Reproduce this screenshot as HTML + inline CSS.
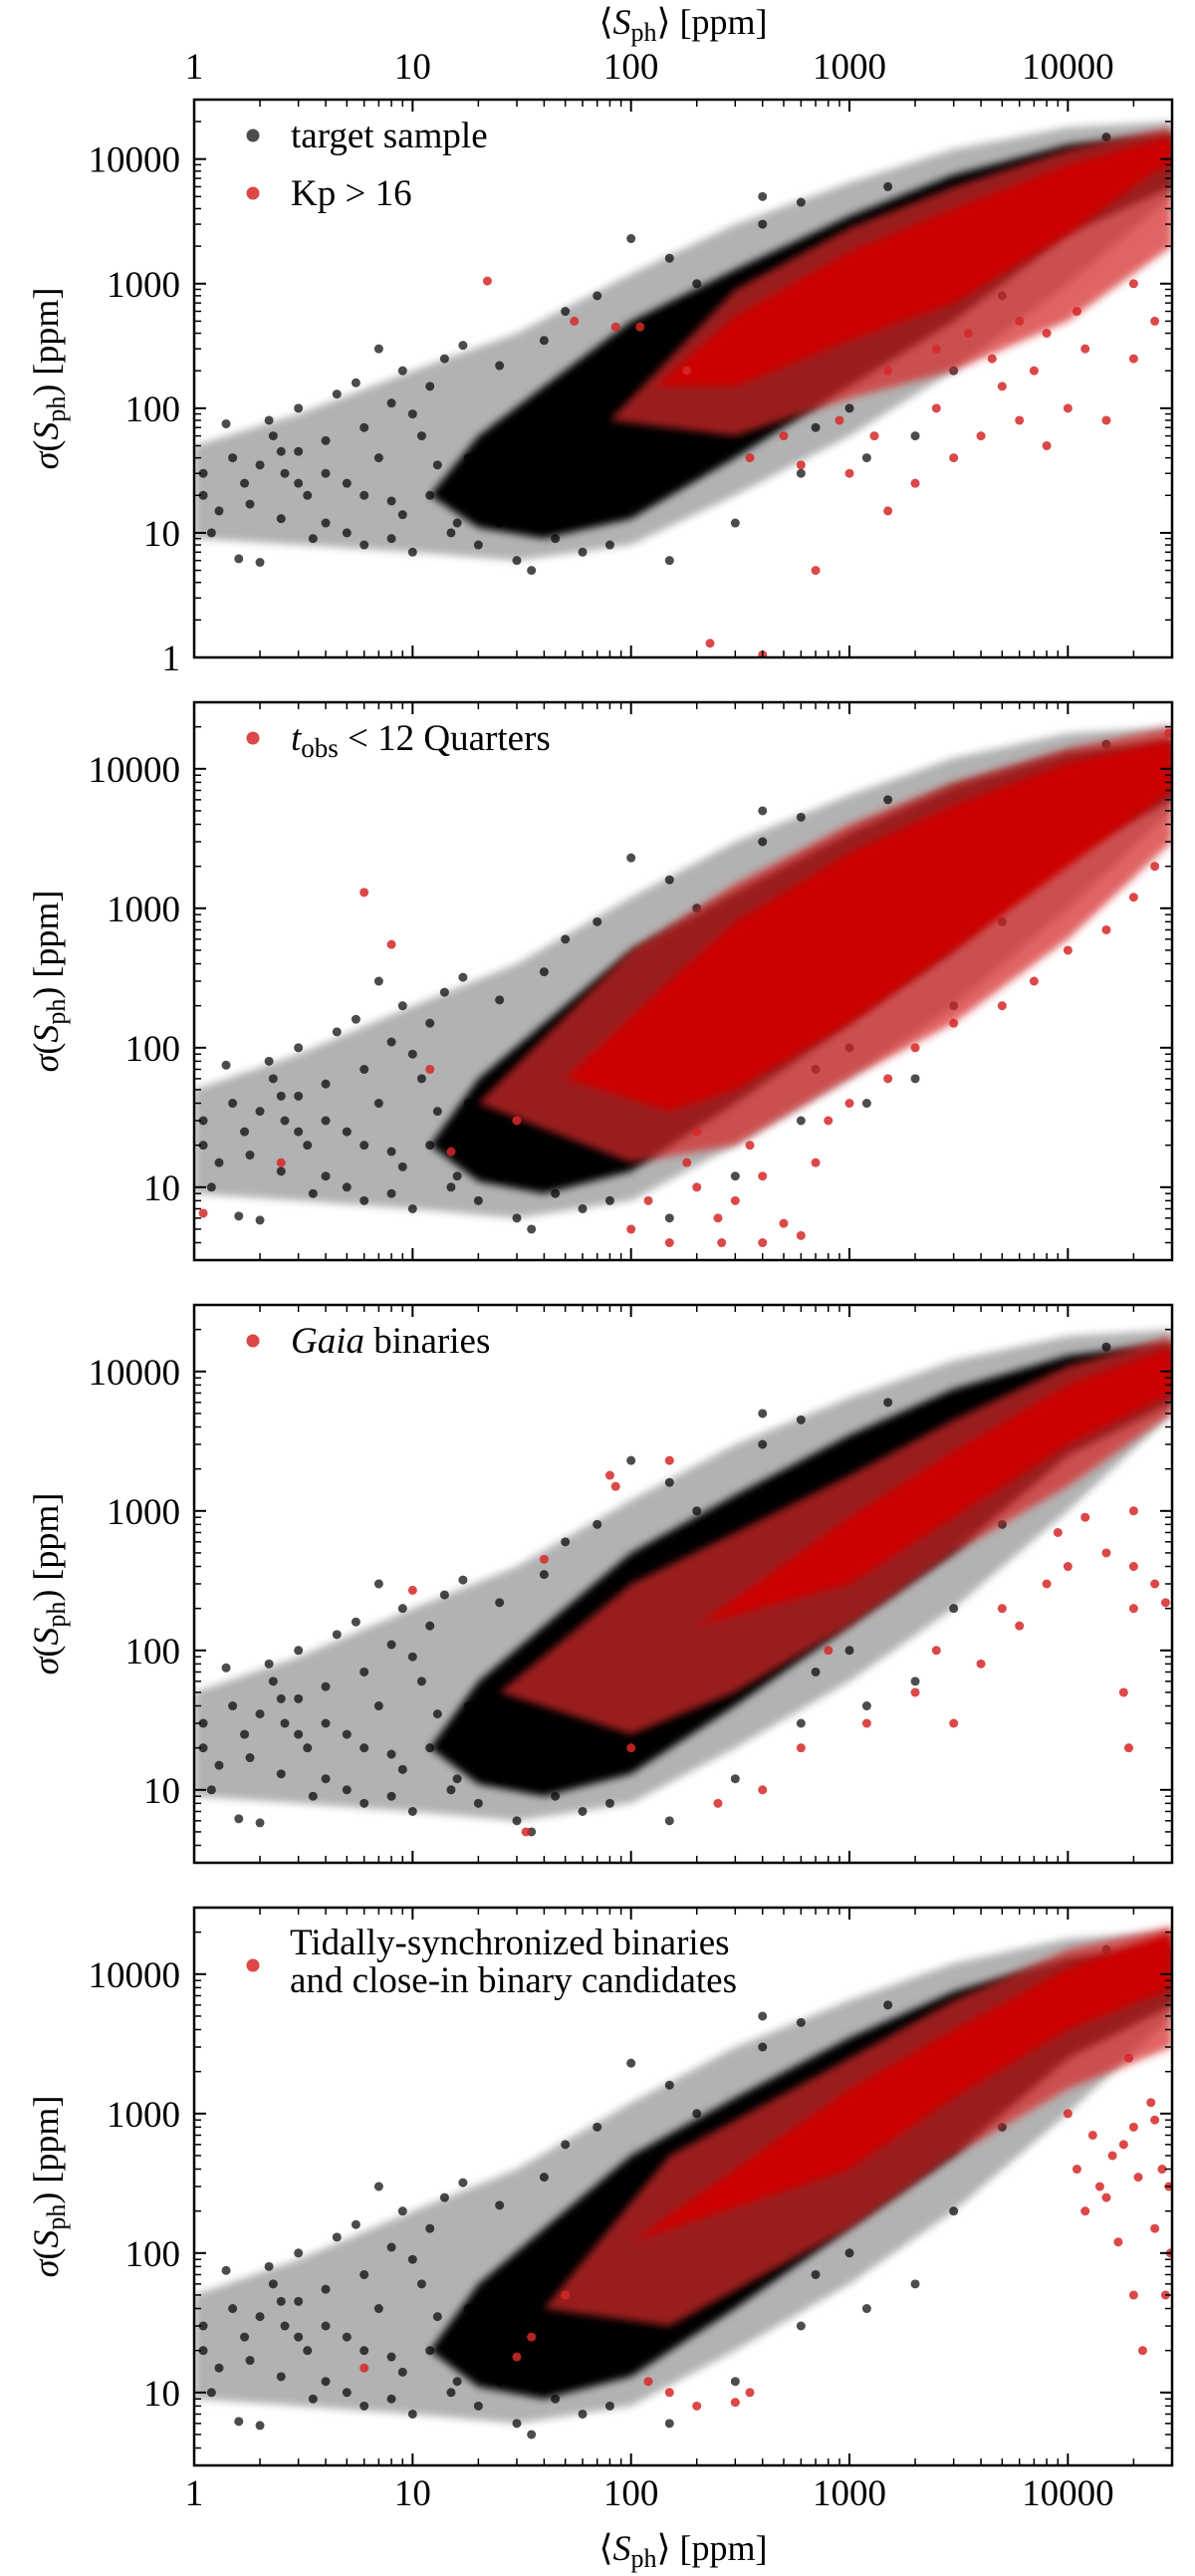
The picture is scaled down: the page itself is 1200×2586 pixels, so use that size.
<!DOCTYPE html>
<html><head><meta charset="utf-8"><style>
html,body{margin:0;padding:0;background:#fff}
svg{display:block}
text{font-family:"Liberation Serif","DejaVu Serif",serif;fill:#000}
</style></head>
<body>
<svg id="fig" width="1200" height="2586" viewBox="0 0 1200 2586" xmlns="http://www.w3.org/2000/svg">
<defs><filter id="soft" x="-5%" y="-5%" width="110%" height="110%"><feGaussianBlur stdDeviation="4"/></filter></defs>
</svg>
<script>
// ---- data ----
const blackCoreX=[12,20,40,100,300,1000,3000,10000,30000];
const blackCoreTop=[20,60,150,500,1300,3500,7500,13000,16000];
const blackCoreBot=[20,11,9,13,40,150,500,2500,6000];
const blackFringeX=[1,3,10,30,100,300,1000,3000,10000,30000];
const blackFringeTop=[50,90,200,400,1200,3000,6500,12000,18000,20000];
const blackFringeBot=[9,8,7,6,8,20,60,200,1000,5000];
const blackPtsX=[1.1,1.1,1.2,1.3,1.4,1.5,1.6,1.7,1.8,2,2,2.2,2.3,2.5,2.6,3,3,3.3,3.5,4,4,4.5,5,5.5,6,6,7,7,8,8,9,10,11,12,14,15,17,20,25,30,35,40,50,60,70,150,100,150,200,400,400,600,1500,1200,600,300,2000,1000,3000,5000,15000,20000,25000,700,20,22,18,12,9,16,4,6,3,2.5,5,8,10,13,25,28,45,80];
const blackPtsY=[30,20,10,15,75,40,6.2,25,17,5.8,35,80,60,13,30,100,45,20,9,55,12,130,25,160,70,8,300,40,18,110,200,7,60,150,250,10,320,8,220,6,5,350,600,7,800,6,2300,1600,1000,5000,3000,4500,6000,40,30,12,60,100,200,800,15000,13000,9000,70,15,30,40,20,14,12,30,20,25,45,10,9,90,35,12,70,9,8];

const red1BandX=[130,300,1000,3000,10000,25000,30000];
const red1BandTop=[150,550,1800,4000,9000,14000,15000];
const red1BandBot=[150,150,350,700,2500,8000,9000];
const red1FringeX=[80,300,1000,3000,10000,30000];
const red1FringeTop=[80,900,2800,6000,12000,18000];
const red1FringeBot=[80,60,120,200,500,2000];
const red1PtsX=[22,55,85,110,180,230,400,700,1000,1300,1500,2000,2500,3000,4000,5000,6000,7000,8000,10000,12000,15000,20000,1500,2500,3500,4500,6000,8000,11000,20000,25000,600,500,900,350];
const red1PtsY=[1050,500,450,450,200,1.3,1.05,5,30,60,15,25,100,40,60,150,80,200,50,100,300,80,250,200,300,400,250,500,400,600,1000,500,35,60,80,40];

const red2BandX=[50,150,300,1000,3000,10000,30000];
const red2BandTop=[60,300,800,2500,5500,11000,16000];
const red2BandBot=[60,35,50,150,500,2000,7000];
const red2FringeX=[20,100,300,1000,3000,10000,30000];
const red2FringeTop=[40,500,1500,4000,8000,14000,20000];
const red2FringeBot=[40,15,20,60,150,600,3000];
const red2PtsX=[6,8,1.1,2.5,12,15,30,100,120,150,200,250,300,400,500,600,700,350,200,800,1000,1500,2000,3000,5000,7000,10000,15000,20000,25000,29000,400,180,260];
const red2PtsY=[1300,550,6.5,15,70,18,30,5,8,4,10,6,8,12,5.5,4.5,15,20,25,30,40,60,100,150,200,300,500,700,1200,2000,18000,4,15,4];

const red3BandX=[200,1000,3000,10000,30000];
const red3BandTop=[150,900,2700,8000,15000];
const red3BandBot=[150,300,900,3000,7000];
const red3FringeX=[25,100,300,1000,3000,10000,30000];
const red3FringeTop=[50,300,700,1800,4500,11000,18000];
const red3FringeBot=[50,25,50,150,500,1500,5000];
const red3PtsX=[10,40,80,85,150,33,100,250,400,600,2000,2500,3000,5000,8000,10000,15000,20000,20000,25000,28000,18000,19000,9000,12000,20000,6000,4000,1200,800];
const red3PtsY=[270,450,1800,1500,2300,5,20,8,10,20,50,100,30,200,300,400,500,400,200,300,220,50,20,700,900,1000,150,80,30,100];

const red4BandX=[100,1000,3000,10000,30000];
const red4BandTop=[120,1500,4000,11000,20000];
const red4BandBot=[120,400,1300,4000,8000];
const red4FringeX=[40,150,1000,3000,10000,30000];
const red4FringeTop=[40,500,2500,6500,15000,22000];
const red4FringeBot=[40,30,150,500,1500,3000];
const red4PtsX=[6,30,35,50,120,150,200,300,350,20000,22000,15000,14000,12000,16000,18000,20000,25000,27000,29500,10000,13000,24000,29000,28000,21000,17000,25000,11000,19000];
const red4PtsY=[15,18,25,50,12,10,8,8.5,10,50,20,250,300,200,500,600,800,150,400,100,1000,700,1200,300,50,350,120,900,400,2500];

const xTicks=[1,10,100,1000,10000];
const xTickLabels=["1","10","100","1000","10000"];
const yTicks1=[1,10,100,1000,10000];
const yTickLabels1=["1","10","100","1000","10000"];
const yTicks2=[10,100,1000,10000];
const yTickLabels2=["10","100","1000","10000"];

// ---- layout ----
const NS="http://www.w3.org/2000/svg";
const svg=document.getElementById('fig');
const L=195,R=1177,XMIN=1,XMAX=30000;
function X(v){return L+(Math.log10(v)-Math.log10(XMIN))/(Math.log10(XMAX)-Math.log10(XMIN))*(R-L);}
function mk(tag,attrs,parent){const e=document.createElementNS(NS,tag);for(const k in attrs)e.setAttribute(k,attrs[k]);(parent||svg).appendChild(e);return e;}

const panels=[
 {top:100,bot:660,ymin:1,ymax:30000,yt:yTicks1,yl:yTickLabels1,red:[red1FringeX,red1FringeTop,red1FringeBot,red1BandX,red1BandTop,red1BandBot,red1PtsX,red1PtsY],leg:[["target sample",0],["Kp > 16",1]]},
 {top:705,bot:1265,ymin:3,ymax:30000,yt:yTicks2,yl:yTickLabels2,red:[red2FringeX,red2FringeTop,red2FringeBot,red2BandX,red2BandTop,red2BandBot,red2PtsX,red2PtsY],leg:[["tobs",1]]},
 {top:1310,bot:1870,ymin:3,ymax:30000,yt:yTicks2,yl:yTickLabels2,red:[red3FringeX,red3FringeTop,red3FringeBot,red3BandX,red3BandTop,red3BandBot,red3PtsX,red3PtsY],leg:[["gaia",1]]},
 {top:1915,bot:2475,ymin:3,ymax:30000,yt:yTicks2,yl:yTickLabels2,red:[red4FringeX,red4FringeTop,red4FringeBot,red4BandX,red4BandTop,red4BandBot,red4PtsX,red4PtsY],leg:[["tidal",1]]}
];

function polyPts(xs,tops,bots,Y){
  const a=[];
  for(let i=0;i<xs.length;i++)a.push(X(xs[i]).toFixed(1)+","+Y(tops[i]).toFixed(1));
  for(let i=xs.length-1;i>=0;i--)a.push(X(xs[i]).toFixed(1)+","+Y(bots[i]).toFixed(1));
  return a.join(" ");
}

panels.forEach((p,pi)=>{
  const Y=v=>p.bot-(Math.log10(v)-Math.log10(p.ymin))/(Math.log10(p.ymax)-Math.log10(p.ymin))*(p.bot-p.top);
  const cp=mk('clipPath',{id:'clip'+pi});
  mk('rect',{x:L,y:p.top,width:R-L,height:p.bot-p.top},cp);
  const g=mk('g',{'clip-path':'url(#clip'+pi+')'});
  
  
  const bf=mk('polygon',{points:polyPts(blackFringeX,blackFringeTop,blackFringeBot,Y),fill:'#000','fill-opacity':0.3,filter:'url(#soft)'},g);
  
  
  const bc=mk('polygon',{points:polyPts(blackCoreX,blackCoreTop,blackCoreBot,Y),fill:'#000',filter:'url(#soft)'},g);
  
  
  for(let i=0;i<blackPtsX.length;i++){
    const c=mk('circle',{cx:X(blackPtsX[i]),cy:Y(blackPtsY[i]),r:4.5,fill:'#000','fill-opacity':0.7},g);
    
    
  }
  const r=p.red;
  const rf=mk('polygon',{points:polyPts(r[0],r[1],r[2],Y),fill:'#d62728','fill-opacity':0.72,filter:'url(#soft)'},g);
  
  
  const rc=mk('polygon',{points:polyPts(r[3],r[4],r[5],Y),fill:'#cc0000',filter:'url(#soft)'},g);
  
  
  for(let i=0;i<r[6].length;i++){
    const c=mk('circle',{cx:X(r[6][i]),cy:Y(r[7][i]),r:4.5,fill:'#d62728','fill-opacity':0.85},g);
    
    
  }
  const fr=mk('rect',{x:L,y:p.top,width:R-L,height:p.bot-p.top,fill:'none',stroke:'#000','stroke-width':2.5});
  
  
  for(let d=0;d<5;d++){
    for(let m=1;m<10;m++){
      const v=Math.pow(10,d)*m; if(v>XMAX)break;
      const x=X(v),len=m===1?12:7;
      const t1=mk('line',{x1:x,x2:x,y1:p.bot,y2:p.bot-len,stroke:'#000','stroke-width':m===1?2:1.5});
      
      
      const t2=mk('line',{x1:x,x2:x,y1:p.top,y2:p.top+len,stroke:'#000','stroke-width':m===1?2:1.5});
      
      
    }
  }
  const d0=Math.floor(Math.log10(p.ymin)),d1=Math.ceil(Math.log10(p.ymax));
  for(let d=d0;d<d1;d++){
    for(let m=1;m<10;m++){
      const v=Math.pow(10,d)*m; if(v<p.ymin-1e-9||v>p.ymax+1e-9)continue;
      const y=Y(v),len=m===1?12:7;
      const t1=mk('line',{x1:L,x2:L+len,y1:y,y2:y,stroke:'#000','stroke-width':m===1?2:1.5});
      
      
      const t2=mk('line',{x1:R,x2:R-len,y1:y,y2:y,stroke:'#000','stroke-width':m===1?2:1.5});
      
      
    }
  }
  p.yt.forEach((v,i)=>{
    const t=mk('text',{x:L-14,y:Y(v)+13,'text-anchor':'end','font-size':37});
    t.textContent=p.yl[i];
    
    
  });
  const yc=(p.top+p.bot)/2;
  const yt=mk('text',{x:0,y:0,'text-anchor':'middle','font-size':36,transform:`translate(58,${yc}) rotate(-90)`});
  
  
  yt.innerHTML='<tspan font-style="italic">σ</tspan>(<tspan font-style="italic">S</tspan><tspan font-size="26" dy="7">ph</tspan><tspan dy="-7">) [ppm]</tspan>';
  p.leg.forEach((e,i)=>{
    const ly=(pi===3)?1973:(p.top+36+i*58);
    const c=mk('circle',{cx:254,cy:ly,r:6.5,fill:e[1]?'#d62728':'#000','fill-opacity':e[1]?0.85:0.7});
    
    
    if(e[0]==='tidal'){
      const t1=mk('text',{x:291,y:1962,'font-size':37});t1.textContent='Tidally-synchronized binaries';
      
      
      const t2=mk('text',{x:291,y:2000,'font-size':37});t2.textContent='and close-in binary candidates';
      
      
    } else {
      const t=mk('text',{x:292,y:ly+12,'font-size':37});
      
      
      if(e[0]==='tobs')t.innerHTML='<tspan font-style="italic">t</tspan><tspan font-size="27" dy="7">obs</tspan><tspan dy="-7"> &lt; 12 Quarters</tspan>';
      else if(e[0]==='gaia')t.innerHTML='<tspan font-style="italic">Gaia</tspan> binaries';
      else t.textContent=e[0];
    }
  });
  if(pi===0||pi===3){
    xTicks.forEach((v,i)=>{
      const t=mk('text',{x:X(v),y:pi===0?79:2515,'text-anchor':'middle','font-size':37});
      t.textContent=xTickLabels[i];
      
      
    });
    const xt=mk('text',{x:(L+R)/2,y:pi===0?34:2570,'text-anchor':'middle','font-size':36});
    
    
    xt.innerHTML='⟨<tspan font-style="italic">S</tspan><tspan font-size="26" dy="7">ph</tspan><tspan dy="-7">⟩ [ppm]</tspan>';
  }
});
</script>
</body></html>
